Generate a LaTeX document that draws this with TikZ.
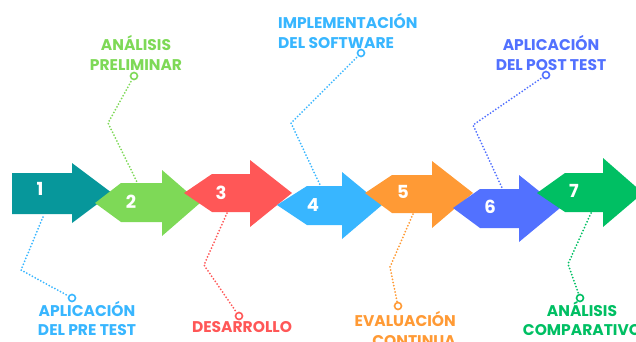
\documentclass[tikz,border=0pt]{standalone}
\usepackage{fontspec}
\setmainfont{Poppins}
\usepackage{tikz}
\usetikzlibrary{calc}
\definecolor{tealstep}{HTML}{07979B}
\definecolor{limestep}{HTML}{7ED957}
\definecolor{redstep}{HTML}{FF5757}
\definecolor{skystep}{HTML}{38B6FF}
\definecolor{orangestep}{HTML}{FF9A35}
\definecolor{bluestep}{HTML}{5271FF}
\definecolor{greenstep}{HTML}{00BF63}
\tikzset{
	callout/.style={line width=2pt, dash pattern=on 0pt off 3.2pt, line cap=round},
	dotend/.style={circle, draw, fill=white, line width=1.6pt, inner sep=0pt, minimum size=7pt},
	numtext/.style={text=white, font=\bfseries\fontsize{18}{20}\selectfont},
	labeltext/.style={font=\bfseries\fontsize{15.5}{19.5}\selectfont, align=center, inner sep=0pt}
}

\begin{document}
\begin{tikzpicture}[x=1pt, y=-1pt]
			%%%%% START %%%%%
			\useasboundingbox (0, 0) rectangle (636, 341);
			
			% ends of the dotted lines
			\coordinate (a1) at (43, 217);   \coordinate (b1) at (21, 270);
			\coordinate (a2) at (138, 184);  \coordinate (b2) at (108, 123);
			\coordinate (a3) at (227, 213);  \coordinate (b3) at (204, 265);
			\coordinate (a4) at (321, 187);  \coordinate (b4) at (291, 123);
			\coordinate (a5) at (413, 214);  \coordinate (b5) at (390, 267);
			\coordinate (a6) at (503, 190);  \coordinate (b6) at (473, 125);
			\coordinate (a7) at (591, 213);  \coordinate (b7) at (568, 264);
			
			\node[dotend, draw=skystep] (p1) at (72, 298) {};
			\node[dotend, draw=limestep] (p2) at (134, 76) {};
			\node[dotend, draw=redstep] (p3) at (239, 316) {};
			\node[dotend, draw=skystep] (p4) at (361, 53) {};
			\node[dotend, draw=orangestep] (p5) at (398, 306) {};
			\node[dotend, draw=bluestep] (p6) at (546, 75) {};
			\node[dotend, draw=greenstep] (p7) at (580, 298) {};
			
			\draw[callout, skystep] (a1) -- (b1) -- (p1);
			\draw[callout, limestep] (a2) -- (b2) -- (p2);
			\draw[callout, redstep] (a3) -- (b3) -- (p3);
			\draw[callout, skystep] (a4) -- (b4) -- (p4);
			\draw[callout, orangestep] (a5) -- (b5) -- (p5);
			\draw[callout, bluestep] (a6) -- (b6) -- (p6);
			\draw[callout, greenstep] (a7) -- (b7) -- (p7);
			
			% arrows
			\fill[tealstep] (12, 173) -- (72, 173) -- (72, 163) -- (112, 193) -- (72, 223) -- (72, 214) -- (12, 214) -- cycle;
			\fill[limestep] (95, 203) -- (121, 183) -- (162, 183) -- (162, 170) -- (200, 203) -- (162, 236) -- (162, 222) -- (121, 222) -- cycle;
			\fill[redstep] (184, 193) -- (212, 174) -- (250, 174) -- (250, 160) -- (292, 193) -- (250, 227) -- (250, 212) -- (212, 212) -- cycle;
			\fill[skystep] (277, 205) -- (307, 186) -- (342, 186) -- (342, 172) -- (382, 205) -- (342, 239) -- (342, 225) -- (307, 225) -- cycle;
			\fill[orangestep] (365, 193) -- (392, 175) -- (432, 175) -- (432, 161) -- (473, 193) -- (432, 228) -- (432, 213) -- (392, 213) -- cycle;
			\fill[bluestep] (453, 208) -- (480, 189) -- (519, 189) -- (519, 175) -- (560, 208) -- (519, 242) -- (519, 228) -- (480, 228) -- cycle;
			\fill[greenstep] (537, 193) -- (565, 173) -- (603, 173) -- (603, 158) -- (643, 193) -- (603, 227) -- (603, 212) -- (565, 212) -- cycle;
			
			\node[numtext] (n1) at (40, 189) {1};
			\node[numtext] (n2) at (131, 202) {2};
			\node[numtext] (n3) at (221, 193) {3};
			\node[numtext] (n4) at (313, 205) {4};
			\node[numtext] (n5) at (403, 192) {5};
			\node[numtext] (n6) at (490, 207) {6};
			\node[numtext] (n7) at (574, 191) {7};
			
			% labels
			\node[labeltext, text=skystep] (l1) at (87, 318.5) {APLICACIÓN\\DEL PRE TEST};
			\node[labeltext, text=limestep] (l2) at (136, 53) {ANÁLISIS\\PRELIMINAR};
			\node[labeltext, text=redstep] (l3) at (242, 327.5) {DESARROLLO};
			\node[labeltext, text=skystep, align=left, anchor=west] (l4) at (278, 31) {IMPLEMENTACIÓN\\DEL SOFTWARE};
			\node[labeltext, text=orangestep, align=right, anchor=east] (l5) at (456, 329) {EVALUACIÓN\\CONTINUA};
			\node[labeltext, text=bluestep] (l6) at (551, 53) {APLICACIÓN\\DEL POST TEST};
			\node[labeltext, text=greenstep] (l7) at (582, 318.5) {ANÁLISIS\\COMPARATIVO};
			
			%%%%% END %%%%%
\end{tikzpicture}
\end{document}
